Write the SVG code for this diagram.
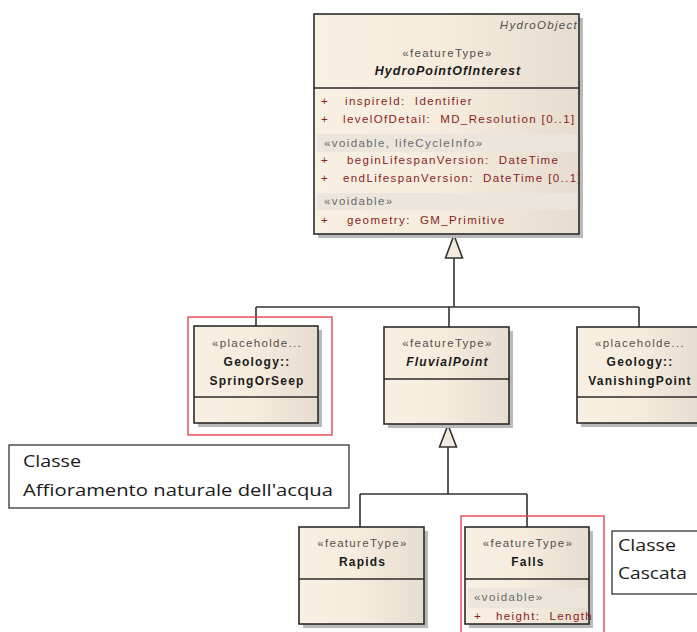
<svg xmlns="http://www.w3.org/2000/svg" width="697" height="632" viewBox="0 0 697 632">
  <defs>
    <linearGradient id="boxFill" x1="0" y1="0" x2="1" y2="0">
      <stop offset="0" stop-color="#f8f0e2"/>
      <stop offset="0.45" stop-color="#f6eddf"/>
      <stop offset="1" stop-color="#e6ddd0"/>
    </linearGradient>
    <clipPath id="hpoiClip"><rect x="315" y="15" width="263" height="218"/></clipPath>
    <style>
      .box { fill: url(#boxFill); stroke: #2b2b2b; stroke-width: 1.6; }
      .shadow { fill: #b9b9b9; }
      .sep { stroke: #2b2b2b; stroke-width: 1.6; }
      .band { fill: #ebe5dc; }
      .st { font-family: "Liberation Sans", Arial, sans-serif; font-size: 11.5px; fill: #555049; text-anchor: middle; letter-spacing: 1.3px; }
      .nm { font-family: "Liberation Sans", Arial, sans-serif; font-size: 12px; font-weight: bold; fill: #1a1a1a; text-anchor: middle; letter-spacing: 1.2px; }
      .it { font-style: italic; }
      .attr { font-family: "Liberation Sans", Arial, sans-serif; font-size: 11.5px; fill: #8c1c1c; letter-spacing: 1.4px; }
      .grp { font-family: "Liberation Sans", Arial, sans-serif; font-size: 11.5px; fill: #6a6a6a; letter-spacing: 1.4px; }
      .edge { fill: none; stroke: #333333; stroke-width: 1.6; }
      .tri { fill: #f3ebdd; stroke: #333333; stroke-width: 1.6; stroke-linejoin: miter; }
      .mark { fill: none; stroke: #e8434b; stroke-width: 1.4; }
      .note { fill: #ffffff; stroke: #333333; stroke-width: 1.3; }
      .noteText { font-family: "Open Sans", "Noto Sans", sans-serif; font-size: 17px; fill: #1a1a1a; }
    </style>
  </defs>

  <!-- generalisation connectors -->
  <g id="connectors">
    <path class="edge" d="M454 258 V307 M256 307 H639 M256 307 V326 M449 307 V327 M639 307 V327"/>
    <polygon class="tri" points="454,235 445.5,258 462.5,258"/>
    <path class="edge" d="M448 447 V494 M360 494 H527 M360 494 V527 M527 494 V527"/>
    <polygon class="tri" points="448,425 439.5,447 456.5,447"/>
  </g>

  <!-- HydroPointOfInterest -->
  <g id="HydroPointOfInterest">
    <rect class="shadow" x="318" y="18" width="265" height="220"/>
    <rect class="box" x="314" y="14" width="265" height="220"/>
    <line class="sep" x1="314" y1="88" x2="579" y2="88"/>
    <text x="578" y="29" class="st it" style="text-anchor:end">HydroObject</text>
    <text x="447.5" y="57" class="st">«featureType»</text>
    <text x="448" y="75" class="nm it" style="font-size:12.5px;letter-spacing:1px">HydroPointOfInterest</text>
    <rect class="band" x="317" y="134" width="260" height="18"/>
    <rect class="band" x="317" y="193" width="260" height="17"/>
    <g clip-path="url(#hpoiClip)">
      <text x="321" y="105" class="attr">+</text>
      <text x="345" y="105" class="attr" xml:space="preserve">inspireId:  Identifier</text>
      <text x="321" y="123" class="attr">+</text>
      <text x="343" y="123" class="attr" xml:space="preserve">levelOfDetail:  MD_Resolution [0..1]</text>
      <text x="324" y="147" class="grp">«voidable, lifeCycleInfo»</text>
      <text x="321" y="164" class="attr">+</text>
      <text x="347" y="164" class="attr" xml:space="preserve">beginLifespanVersion:  DateTime</text>
      <text x="321" y="182" class="attr">+</text>
      <text x="343" y="182" class="attr" xml:space="preserve">endLifespanVersion:  DateTime [0..1]</text>
      <text x="324" y="205" class="grp">«voidable»</text>
      <text x="321" y="224" class="attr">+</text>
      <text x="347" y="224" class="attr" xml:space="preserve">geometry:  GM_Primitive</text>
    </g>
  </g>

  <!-- SpringOrSeep -->
  <g id="SpringOrSeep">
    <rect class="shadow" x="198" y="330" width="124" height="97"/>
    <rect class="box" x="194" y="326" width="124" height="97"/>
    <line class="sep" x1="194" y1="397" x2="318" y2="397"/>
    <text x="257" y="347" class="st">«placeholde...</text>
    <text x="257" y="366" class="nm">Geology::</text>
    <text x="257" y="385" class="nm">SpringOrSeep</text>
    <rect class="mark" x="188" y="317" width="144" height="118"/>
  </g>

  <!-- FluvialPoint -->
  <g id="FluvialPoint">
    <rect class="shadow" x="388" y="331" width="125" height="97"/>
    <rect class="box" x="384" y="327" width="125" height="97"/>
    <line class="sep" x1="384" y1="379" x2="509" y2="379"/>
    <text x="447.5" y="347" class="st">«featureType»</text>
    <text x="447.5" y="366" class="nm it">FluvialPoint</text>
  </g>

  <!-- VanishingPoint -->
  <g id="VanishingPoint">
    <rect class="shadow" x="581" y="331" width="125" height="96"/>
    <rect class="box" x="577" y="327" width="125" height="96"/>
    <line class="sep" x1="577" y1="397" x2="702" y2="397"/>
    <text x="640" y="347" class="st">«placeholde...</text>
    <text x="640" y="366" class="nm">Geology::</text>
    <text x="640" y="385" class="nm">VanishingPoint</text>
  </g>

  <!-- Rapids -->
  <g id="Rapids">
    <rect class="shadow" x="303" y="531" width="125" height="97"/>
    <rect class="box" x="299" y="527" width="125" height="97"/>
    <line class="sep" x1="299" y1="579" x2="424" y2="579"/>
    <text x="362.5" y="547" class="st">«featureType»</text>
    <text x="362.5" y="566" class="nm">Rapids</text>
  </g>

  <!-- Falls -->
  <g id="Falls">
    <rect class="shadow" x="469" y="531" width="124" height="97"/>
    <rect class="box" x="465" y="527" width="124" height="97"/>
    <line class="sep" x1="465" y1="579" x2="589" y2="579"/>
    <text x="528" y="547" class="st">«featureType»</text>
    <text x="528" y="566" class="nm">Falls</text>
    <rect class="band" x="468" y="588" width="119" height="20"/>
    <text x="474" y="601" class="grp">«voidable»</text>
    <text x="474" y="620" class="attr">+</text>
    <text x="496" y="620" class="attr" xml:space="preserve">height:  Length</text>
    <rect class="mark" x="461" y="516" width="143" height="130"/>
  </g>

  <!-- text notes -->
  <g id="noteSpring">
    <rect class="note" x="9" y="445" width="340" height="63"/>
    <text x="23" y="467" class="noteText" textLength="58" lengthAdjust="spacingAndGlyphs">Classe</text>
    <text x="23" y="496" class="noteText" textLength="310" lengthAdjust="spacingAndGlyphs">Affioramento naturale dell'acqua</text>
  </g>
  <g id="noteFalls">
    <rect class="note" x="612" y="531" width="100" height="63"/>
    <text x="618" y="551" class="noteText" textLength="58" lengthAdjust="spacingAndGlyphs">Classe</text>
    <text x="618" y="579" class="noteText" textLength="69" lengthAdjust="spacingAndGlyphs">Cascata</text>
  </g>
</svg>
